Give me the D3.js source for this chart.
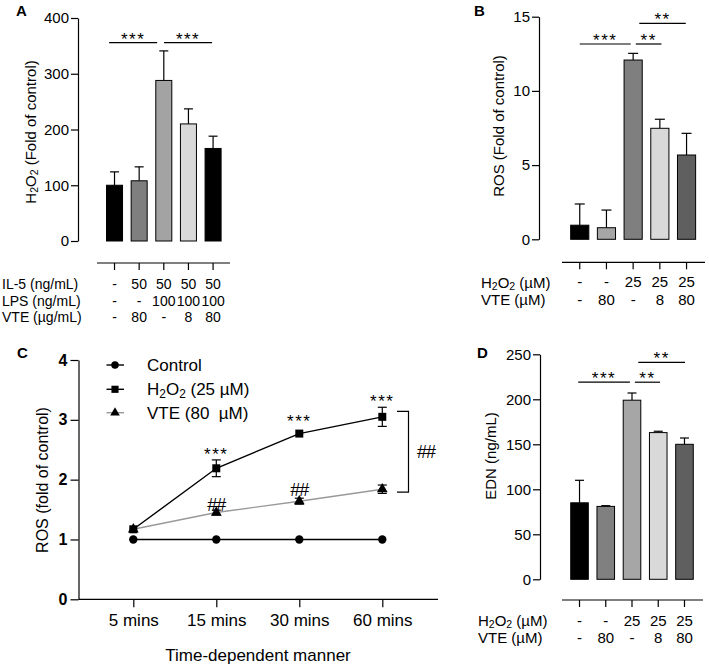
<!DOCTYPE html>
<html><head><meta charset="utf-8">
<script src="https://cdn.jsdelivr.net/npm/d3@7"></script>
<style>
body{margin:0;background:#fff}
text{font-family:"Liberation Sans",Arial,Helvetica,sans-serif;fill:#000}
</style>
</head><body>
<svg id="c" width="709" height="666"></svg>
<script>
// ---------- DATA ----------
// Panel A
const catsA = ["g1","g2","g3","g4","g5"];
const valsA = [100,108,288,210,166];
const errA  = [24,25,53,27,22];
const ticksA = [0,100,200,300,400];
const rowLabelsA = ["IL-5 (ng/mL)","LPS (ng/mL)","VTE (µg/mL)"];
const rowValsA = [["-","50","50","50","50"],["-","-","100","100","100"],["-","80","-","8","80"]];
const sigA = [[-0.22,1.73,356,"***"],[2.01,3.96,356,"***"]];
const colorsA = ["#000000","#7f7f7f","#a3a3a3","#d9d9d9","#000000"];

// Panel B
const catsB = ["g1","g2","g3","g4","g5"];
const valsB = [0.95,0.78,12.08,7.48,5.68];
const errB  = [1.43,1.19,0.45,0.61,1.46];
const ticksB = [0,5,10,15];
const rowLabelsB = ["H2O2 (µM)","VTE (µM)"];
const rowValsB = [["-","-","25","25","25"],["-","80","-","8","80"]];
const sigB = [[0,1.91,13.16,"***"],[2.1,3.06,13.16,"**"],[2.23,3.97,14.55,"**"]];
const colorsB = ["#000000","#a6a6a6","#7f7f7f","#d9d9d9","#5f5f5f"];

// Panel C
const timesC = ["5 mins","15 mins","30 mins","60 mins"];
const controlC = [1.0,1.0,1.0,1.0];
const h2o2C = [1.17,2.19,2.77,3.05];
const h2o2ErrC = [0.02,0.14,0.03,0.16];
const vteC = [1.17,1.45,1.64,1.84];
const vteErrC = [0.02,0.04,0.05,0.07];
const ticksC = [0,1,2,3,4];
const starsC = [[1,2.45,"***"],[2,2.99,"***"],[3,3.33,"***"]];
const hashC = [[1,1.58,"##"],[2,1.83,"##"]];
const bracketC = [3.14,1.79,"##"];
const legendC = ["Control","H2O2 (25 µM)","VTE (80  µM)"];

// Panel D
const catsD = ["g1","g2","g3","g4","g5"];
const valsD = [85,81,199,163,150];
const errD  = [25,0.8,8,1.5,7];
const ticksD = [0,50,100,150,200,250];
const rowLabelsD = ["H2O2 (µM)","VTE (µM)"];
const rowValsD = [["-","-","25","25","25"],["-","80","-","8","80"]];
const sigD = [[-0.05,1.92,219,"***"],[2.11,3.07,219,"**"],[2.24,4.02,241,"**"]];
const colorsD = ["#000000","#808080","#a6a6a6","#d9d9d9","#5f5f5f"];

// ---------- DRAW ----------
const FONT = '"Liberation Sans",Arial,Helvetica,sans-serif';
const svg = d3.select("#c");

function rich(t, str, fs){
  const parts = str.split("H2O2");
  parts.forEach((p,i)=>{
    if(i>0){
      t.append("tspan").text("H");
      t.append("tspan").attr("font-size",fs*0.7).attr("dy",fs*0.28).text("2");
      t.append("tspan").attr("dy",-fs*0.28).text("O");
      t.append("tspan").attr("font-size",fs*0.7).attr("dy",fs*0.28).text("2");
      if(p.length) t.append("tspan").attr("dy",-fs*0.28).text(p);
    } else if(p.length){
      t.append("tspan").text(p);
    }
  });
}

function panelLetter(x,y,s){
  svg.append("text").attr("x",x).attr("y",y).attr("font-size",15).attr("font-weight","bold").text(s);
}

function yTitle(cx,cy,str,fs){
  const t = svg.append("text").attr("transform",`translate(${cx},${cy}) rotate(-90)`)
    .attr("text-anchor","middle").attr("dominant-baseline","central").attr("font-size",fs);
  rich(t,str,fs);
}

function barPanel(o){
  const g = svg.append("g");
  const y = d3.scaleLinear().domain([0,o.ymax]).range([o.y0,o.y1]);
  const x = d3.scaleBand().domain(o.cats).range(o.xr).paddingInner(o.pad).paddingOuter(o.pad/2);
  const bw = x.bandwidth();
  const cx = c => x(c)+bw/2;
  const n = o.cats.length;
  const idx = d3.scaleLinear().domain([0,n-1]).range([cx(o.cats[0]),cx(o.cats[n-1])]);

  const ax = g.append("g").attr("transform",`translate(${o.ax},0)`)
    .call(d3.axisLeft(y).tickValues(o.ticks).tickSize(7).tickSizeOuter(0).tickPadding(2).tickFormat(d3.format("d")));
  ax.attr("font-family",FONT).attr("font-size",o.fs);
  ax.selectAll("text").attr("fill","#000");
  ax.selectAll("line,path").attr("stroke","#000").attr("stroke-width",1.2);

  // error bars (upper)
  o.cats.forEach((c,i)=>{
    const xc = cx(c), top = y(o.vals[i]+o.errs[i]);
    g.append("line").attr("x1",xc).attr("x2",xc).attr("y1",y(o.vals[i])).attr("y2",top).attr("stroke","#000").attr("stroke-width",1.2);
    g.append("line").attr("x1",xc-o.cap/2).attr("x2",xc+o.cap/2).attr("y1",top).attr("y2",top).attr("stroke","#000").attr("stroke-width",1.2);
  });
  g.selectAll("rect.bar").data(o.vals).join("rect").attr("class","bar")
    .attr("x",(d,i)=>x(o.cats[i])).attr("width",bw)
    .attr("y",d=>y(d)).attr("height",d=>y(0)-y(d))
    .attr("fill",(d,i)=>o.colors[i]).attr("stroke","#000").attr("stroke-width",1);

  // significance
  o.sig.forEach(s=>{
    const yy = y(s[2]);
    g.append("line").attr("x1",idx(s[0])).attr("x2",idx(s[1])).attr("y1",yy).attr("y2",yy).attr("stroke","#000").attr("stroke-width",1.2);
    g.append("text").attr("x",(idx(s[0])+idx(s[1]))/2).attr("y",yy+2).attr("text-anchor","middle")
      .attr("font-size",17).attr("letter-spacing",1.5).attr("fill","#333").text(s[3]);
  });

  // bottom row axis
  g.append("line").attr("x1",o.bx[0]).attr("x2",o.bx[1]).attr("y1",o.by).attr("y2",o.by).attr("stroke","#000").attr("stroke-width",1.2);
  o.cats.forEach(c=>{
    g.append("line").attr("x1",cx(c)).attr("x2",cx(c)).attr("y1",o.by).attr("y2",o.by+7).attr("stroke","#000").attr("stroke-width",1.2);
  });
  o.rowLabels.forEach((lab,r)=>{
    const t = g.append("text").attr("x",o.lx).attr("y",o.rowY[r]).attr("dominant-baseline","central").attr("font-size",o.rfs);
    rich(t,lab,o.rfs);
    o.rowVals[r].forEach((v,i)=>{
      g.append("text").attr("x",cx(o.cats[i])).attr("y",o.rowY[r]).attr("dominant-baseline","central")
        .attr("text-anchor","middle").attr("font-size",o.rfs).text(v);
    });
  });
}

// Panel A
panelLetter(16,16,"A");
yTitle(30,132,"H2O2 (Fold of control)",15);
barPanel({cats:catsA,vals:valsA,errs:errA,colors:colorsA,ticks:ticksA,sig:sigA,
  rowLabels:rowLabelsA,rowVals:rowValsA,ymax:400,y0:241,y1:18,xr:[102.2,225.4],pad:0.35,
  ax:78,fs:15,cap:9,bx:[97,230],by:263,lx:2,rowY:[284,300.5,317],rfs:14});

// Panel B
panelLetter(474,16,"B");
yTitle(498,126,"ROS (Fold of control)",15);
barPanel({cats:catsB,vals:valsB,errs:errB,colors:colorsB,ticks:ticksB,sig:sigB,
  rowLabels:rowLabelsB,rowVals:rowValsB,ymax:15,y0:239.3,y1:16.7,xr:[566.4,699.9],pad:0.32,
  ax:539,fs:15,cap:10,bx:[562,705],by:262.3,lx:481,rowY:[281.7,299],rfs:15});

// Panel D
panelLetter(477,358,"D");
yTitle(490,456,"EDN (ng/mL)",15);
barPanel({cats:catsD,vals:valsD,errs:errD,colors:colorsD,ticks:ticksD,sig:sigD,
  rowLabels:rowLabelsD,rowVals:rowValsD,ymax:250,y0:579.3,y1:354.3,xr:[566.4,697.6],pad:0.33,
  ax:540,fs:15,cap:9,bx:[562,703],by:600,lx:478,rowY:[620,637.3],rfs:15});

// Panel C
(function(){
  panelLetter(17,358,"C");
  yTitle(42,480,"ROS (fold of control)",16);
  const g = svg.append("g");
  const x = d3.scalePoint().domain(timesC).range([133.3,382.3]);
  const y = d3.scaleLinear().domain([0,4]).range([599.3,360]);
  const ay = g.append("g").attr("transform","translate(78.5,0)")
    .call(d3.axisLeft(y).tickValues(ticksC).tickSize(8).tickSizeOuter(0).tickPadding(3).tickFormat(d3.format("d")));
  ay.attr("font-family",FONT).attr("font-size",16).attr("font-weight","bold");
  ay.selectAll("text").attr("fill","#000");
  ay.selectAll("line,path").attr("stroke","#000").attr("stroke-width",1.2);
  const ax = g.append("g").attr("transform","translate(0,599.3)")
    .call(d3.axisBottom(x).tickSize(8).tickSizeOuter(0).tickPadding(7));
  ax.attr("font-family",FONT).attr("font-size",17);
  ax.selectAll("text").attr("fill","#000");
  ax.selectAll("line").attr("stroke","#000").attr("stroke-width",1.2);
  ax.select(".domain").attr("d","M78.5,0H438").attr("stroke","#000").attr("stroke-width",1.2);
  g.append("text").attr("x",258).attr("y",655).attr("text-anchor","middle").attr("dominant-baseline","central")
    .attr("font-size",17).text("Time-dependent manner");

  const line = d3.line().x((d,i)=>x(timesC[i])).y(d=>y(d));
  const series = [
    {v:controlC,e:null,color:"#000",shape:d3.symbolCircle,size:55},
    {v:vteC,e:vteErrC,color:"#999",shape:d3.symbolTriangle,size:50},
    {v:h2o2C,e:h2o2ErrC,color:"#000",shape:d3.symbolSquare,size:64}
  ];
  series.forEach(s=>{
    g.append("path").attr("d",line(s.v)).attr("fill","none").attr("stroke",s.color).attr("stroke-width",1.4);
  });
  series.forEach(s=>{
    s.v.forEach((v,i)=>{
      const xc = x(timesC[i]);
      if(s.e && s.e[i]>0.03){
        const t=y(v+s.e[i]), b=y(v-s.e[i]);
        g.append("line").attr("x1",xc).attr("x2",xc).attr("y1",t).attr("y2",b).attr("stroke","#000").attr("stroke-width",1.2);
        [t,b].forEach(yy=>g.append("line").attr("x1",xc-4.5).attr("x2",xc+4.5).attr("y1",yy).attr("y2",yy).attr("stroke","#000").attr("stroke-width",1.2));
      }
      g.append("path").attr("d",d3.symbol().type(s.shape).size(s.size)())
        .attr("transform",`translate(${xc},${y(v)})`).attr("fill","#000");
    });
  });
  starsC.forEach(s=>{
    g.append("text").attr("x",x(timesC[s[0]])).attr("y",y(s[1])+7).attr("text-anchor","middle")
      .attr("font-size",17).attr("letter-spacing",1.5).attr("fill","#333").text(s[2]);
  });
  hashC.forEach(s=>{
    g.append("text").attr("x",x(timesC[s[0]])).attr("y",y(s[1])).attr("text-anchor","middle")
      .attr("dominant-baseline","central").attr("font-size",18).attr("letter-spacing",-1).text(s[2]);
  });
  // bracket
  const bx = 408.5;
  g.append("path").attr("d",`M397,${y(bracketC[0])}H${bx}V${y(bracketC[1])}H397`).attr("fill","none").attr("stroke","#000").attr("stroke-width",1.2);
  g.append("text").attr("x",426).attr("y",(y(bracketC[0])+y(bracketC[1]))/2).attr("text-anchor","middle")
    .attr("dominant-baseline","central").attr("font-size",18).attr("letter-spacing",-1).text(bracketC[2]);

  // legend
  const ly = [365,389.3,412.7];
  const legSeries = [series[0],series[2],series[1]];
  legendC.forEach((lab,i)=>{
    const s = legSeries[i];
    g.append("line").attr("x1",106.5).attr("x2",124).attr("y1",ly[i]).attr("y2",ly[i]).attr("stroke",s.color).attr("stroke-width",1.4);
    g.append("path").attr("d",d3.symbol().type(s.shape).size(s.size*0.8)()).attr("transform",`translate(115,${ly[i]})`).attr("fill","#000");
    const t = g.append("text").attr("x",147).attr("y",ly[i]).attr("dominant-baseline","central")
      .attr("font-size",17).style("white-space","pre");
    rich(t,lab,17);
  });
})();
</script>
</body></html>
